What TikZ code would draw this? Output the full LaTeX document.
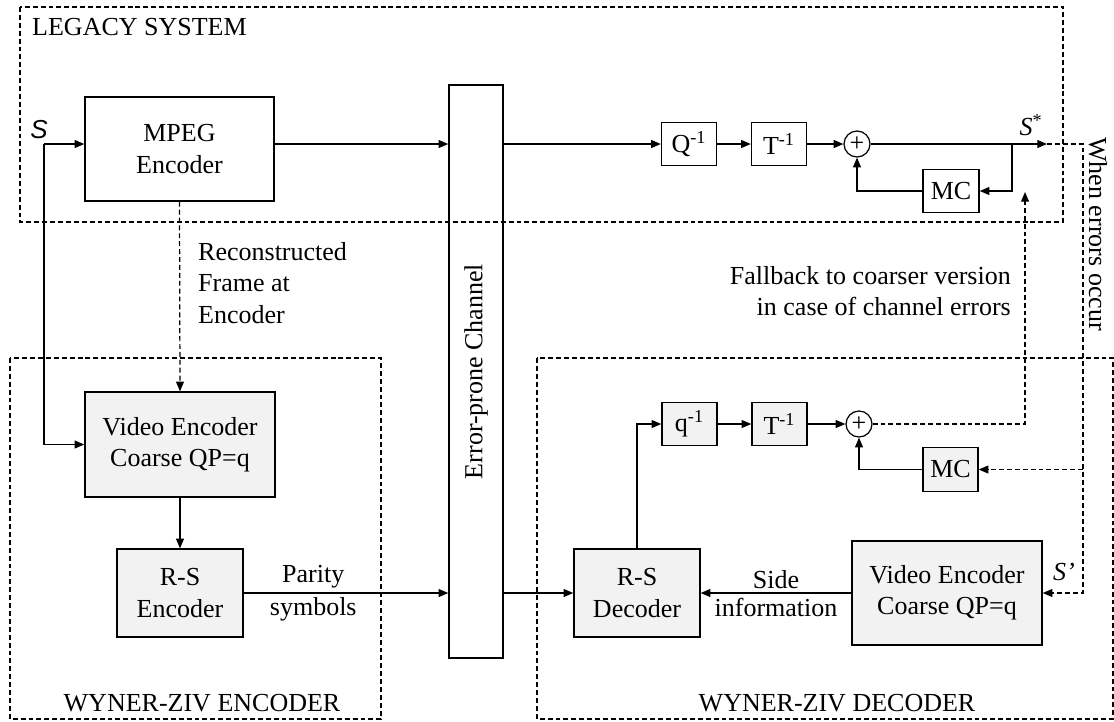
\documentclass[tikz,border=0pt]{standalone}
\usepackage{fontspec}
\setmainfont{Liberation Serif}
\newfontfamily\arialfont{Liberation Sans}
\usetikzlibrary{arrows.meta}

\begin{document}
\begin{tikzpicture}[x=0.02cm, y=-0.02cm,
    font=\fontsize{14.8}{17.8}\selectfont,
    block/.style={draw, line width=0.8pt, inner sep=0pt, align=center},
    shaded/.style={block, fill=gray!10},
    small/.style={block, minimum width=1.1cm, minimum height=0.87cm},
    summer/.style={draw, circle, line width=0.7pt, minimum size=0.52cm, inner sep=0pt},
    frame/.style={draw, line width=0.6pt, dash pattern=on 2.8pt off 1.7pt},
    arrow/.style={-{Triangle[length=5.5pt, width=4.5pt]}, line width=0.7pt},
    dasharrow/.style={arrow, dash pattern=on 2.8pt off 1.7pt}
]
    \useasboundingbox (0,0) rectangle (1114,721);

    % Dashed frames
    \draw[frame] (20,7) rectangle (1063,222);
    \draw[frame] (10,358) rectangle (381,719);
    \draw[frame] (537,358) rectangle (1113,719);
    \node[anchor=west] (legacy) at (26,27) {LEGACY SYSTEM};
    \node (wzenc) at (202,703) {WYNER-ZIV ENCODER};
    \node (wzdec) at (837,703) {WYNER-ZIV DECODER};

    % Legacy system
    \coordinate (sin) at (44,144);
    \node (slabel) at (39,130) {\arialfont\itshape S};
    \node[block, minimum width=3.78cm, minimum height=2.08cm] (mpeg) at (179.5,149) {MPEG\\Encoder};
    \node[block, minimum width=1.08cm, minimum height=11.46cm] (chan) at (476,371.5) {};
    \node[rotate=90] (chantext) at (chan) {Error-prone Channel};
    \node[small] (qinv) at (689,144) {Q\textsuperscript{-1}};
    \node[small] (tinv) at (779,144) {T\textsuperscript{-1}};
    \node[summer] (sum) at (857,144) {+};
    \node[small, minimum width=1.12cm] (mc) at (951,191) {MC};
    \coordinate (tap) at (1012,144);
    \coordinate (sout) at (1047,144);
    \node (sstar) at (1031,125) {\textit{S}\textsuperscript{*}};

    % Wyner-Ziv encoder
    \node[shaded, minimum width=3.8cm, minimum height=2.1cm] (venc) at (180,444.5) {Video Encoder\\Coarse QP=q};
    \node[shaded, minimum width=2.52cm, minimum height=1.76cm] (rsenc) at (180,593) {R-S\\Encoder};
    \node[anchor=west, align=left] (recon) at (192,283) {Reconstructed\\Frame at\\Encoder};

    % Wyner-Ziv decoder
    \node[shaded, minimum width=2.52cm, minimum height=1.76cm] (rsdec) at (637,593) {R-S\\Decoder};
    \node[small, fill=gray!10] (qdec) at (689.5,424) {q\textsuperscript{-1}};
    \node[small, fill=gray!10] (tdec) at (779.5,424) {T\textsuperscript{-1}};
    \node[summer] (sumdec) at (859,424) {+};
    \node[small, fill=gray!10] (mcdec) at (950.5,469.5) {MC};
    \node[shaded, minimum width=3.8cm, minimum height=2.08cm] (vdec) at (947,593) {Video Encoder\\Coarse QP=q};
    \coordinate (bend) at (1083,144);
    \coordinate (fbtip) at (1025,192);
    \node (sprime) at (1064,572) {\textit{S’}};
    \node[anchor=east, align=right] (fallback) at (1017,291) {Fallback to coarser version\\in case of channel errors};
    \node[rotate=-90] (errnote) at (1098,234) {When errors occur};

    % Arrows
    \draw[arrow] (sin) -- (mpeg.west |- sin);
    \draw[arrow] (sin) |- (venc.west);
    \draw[arrow] (mpeg.east |- sum) -- (chan.west |- sum);
    \draw[arrow] (chan.east |- sum) -- (qinv.west);
    \draw[arrow] (qinv) -- (tinv);
    \draw[arrow] (tinv) -- (sum);
    \draw[arrow] (sum) -- (sout);
    \draw[arrow] (tap) |- (mc.east);
    \draw[arrow] (mc.west) -| (sum.south);
    \draw[dasharrow] (mpeg.south) -- (venc.north);
    \draw[arrow] (venc.south) -- (rsenc.north);
    \draw[arrow] (rsenc.east) -- (chan.west |- rsenc) node[pos=0.34, above=-1pt] {Parity} node[pos=0.34, below=-1pt] {symbols};
    \draw[arrow] (chan.east |- rsdec) -- (rsdec.west);
    \draw[arrow] (rsdec.north) |- (qdec.west);
    \draw[arrow] (qdec) -- (tdec);
    \draw[arrow] (tdec) -- (sumdec);
    \draw[arrow] (mcdec.west) -| (sumdec.south);
    \draw[arrow] (vdec.west) -- (rsdec.east) node[midway, above=-1pt] {Side} node[midway, below=-1pt] {information};
    \draw[dasharrow] (sout) -- (bend) |- (vdec.east);
    \draw[dasharrow] (bend |- mcdec) -- (mcdec.east);
    \draw[dasharrow] (sumdec.east) -| (fbtip);
\end{tikzpicture}
\end{document}
